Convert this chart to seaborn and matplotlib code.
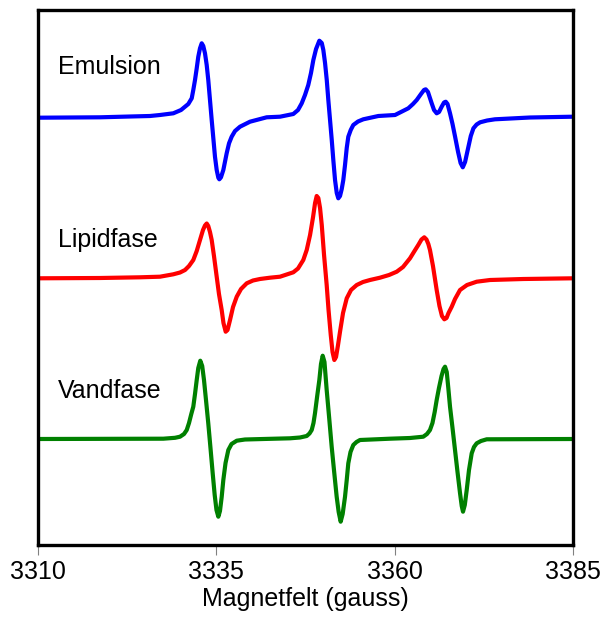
"""
EPR spectra of a spin probe in emulsion, lipid phase and water phase.
Stacked derivative spectra, no y scale.
"""

import pandas as pd
import matplotlib
matplotlib.use("Agg")
import matplotlib.pyplot as plt
import seaborn as sns

# magnetic field (gauss) and signal (arbitrary units, relative to baseline)
emulsion_field = [3310.00, 3318.69, 3322.90, 3325.70, 3327.10, 3328.97, 3330.05, 3331.07,
                  3331.55, 3331.77, 3332.01, 3332.25, 3332.47, 3332.71, 3332.95, 3333.17,
                  3333.41, 3333.65, 3333.87, 3334.11, 3334.35, 3334.58, 3334.81, 3335.05,
                  3335.28, 3335.42, 3335.65, 3335.98, 3336.45, 3336.78, 3337.15, 3337.62,
                  3338.32, 3339.72, 3342.06,
                  3343.93, 3345.79, 3346.45, 3346.97, 3347.43, 3347.89, 3348.27, 3348.60,
                  3348.98, 3349.44, 3349.78, 3350.00, 3350.24, 3350.48, 3350.70, 3350.94,
                  3351.18, 3351.40, 3351.64, 3351.88, 3352.10, 3352.34, 3352.58, 3352.80,
                  3353.04, 3353.28, 3353.50, 3353.84, 3354.20, 3354.86, 3355.60, 3357.71,
                  3360.05, 3361.91, 3362.57, 3363.09, 3363.69, 3364.11, 3364.35, 3364.67,
                  3365.19, 3365.52, 3365.89, 3366.22, 3366.59, 3366.92, 3367.16, 3367.41,
                  3367.76, 3368.11, 3368.47, 3368.89, 3369.24, 3369.55, 3369.87, 3370.34,
                  3370.67, 3371.04, 3371.49, 3371.98, 3372.96, 3374.06, 3378.97, 3385.00]
emulsion_signal = [0.0, 0.4, 1.2, 1.7, 2.7, 4.4, 7.7, 13.7,
                   19.4, 27.7, 37.7, 49.4, 61.0, 69.4, 74.4, 71.7,
                   64.4, 52.7, 37.7, 17.7, -2.3, -20.6, -39.0, -52.3,
                   -60.0, -61.6, -59.6, -52.3, -35.6, -25.6, -19.0, -13.3,
                   -9.0, -4.0, 0.4,
                   1.0, 3.7, 7.7, 14.4, 22.7, 32.7, 44.7, 57.7,
                   68.7, 77.0, 74.7, 67.7, 54.7, 37.7, 17.7, -2.3,
                   -22.3, -42.3, -62.3, -75.3, -80.6, -78.3, -71.3, -62.3,
                   -47.3, -30.3, -19.0, -12.3, -7.3, -3.8, -1.6, 1.7,
                   2.7, 9.4, 13.7, 17.7, 23.7, 27.7, 28.4, 25.7,
                   14.4, 7.7, 4.4, 5.7, 11.0, 15.2, 16.0, 13.7,
                   4.4, -6.3, -19.0, -34.3, -45.3, -49.6, -44.3, -29.0,
                   -18.3, -10.6, -6.8, -4.6, -2.8, -1.6, 0.2, 1.0]

lipid_field = [3310.00, 3318.69, 3324.30, 3327.10, 3328.97, 3329.91, 3330.61, 3331.17,
               3331.77, 3332.25, 3332.71, 3333.13, 3333.41, 3333.65, 3333.87, 3334.11,
               3334.35, 3334.67, 3335.05, 3335.37, 3335.75, 3336.00, 3336.31, 3336.57,
               3336.92, 3337.34, 3337.86, 3338.46, 3339.26, 3340.14, 3341.12, 3342.52,
               3343.93, 3345.79, 3346.45, 3347.19, 3347.67, 3348.14, 3348.56, 3348.84,
               3349.07, 3349.30, 3349.54, 3349.78, 3350.10, 3350.47, 3350.73, 3351.04,
               3351.29, 3351.54, 3351.78, 3352.06, 3352.34, 3352.76, 3353.28, 3353.88,
               3354.68, 3355.56, 3356.54, 3357.94, 3359.21,
               3360.29, 3361.17, 3362.15, 3362.78, 3363.31, 3363.76, 3364.15, 3364.46,
               3364.72, 3364.95, 3365.37, 3365.89, 3366.28, 3366.63, 3366.96, 3367.27,
               3367.55, 3368.00, 3368.46, 3369.16, 3370.14, 3371.50, 3373.37, 3378.03,
               3385.00]
lipid_signal = [0.0, 0.3, 1.0, 1.6, 4.0, 5.8, 8.3, 12.3,
                18.3, 27.3, 38.3, 48.3, 52.8, 54.8, 52.3, 46.3,
                38.3, 22.3, 1.6, -15.7, -31.7, -44.7, -53.4, -51.7,
                -41.7, -28.7, -18.4, -10.7, -5.0, -2.2, -0.7, 0.6,
                1.6, 6.0, 9.8, 18.3, 28.3, 43.3, 61.3, 75.3,
                82.3, 80.3, 70.3, 53.3, 23.3, -6.7, -31.7, -56.7,
                -73.7, -81.7, -78.7, -66.7, -53.4, -34.7, -20.0, -11.7,
                -6.7, -3.7, -1.7, 0.6, 3.3,
                6.6, 11.3, 20.0, 27.3, 33.3, 38.8, 41.0, 38.8,
                34.3, 28.3, 12.3, -11.7, -27.7, -37.7, -41.0, -39.7,
                -34.7, -28.4, -20.7, -11.7, -6.7, -3.4, -1.7, -0.7,
                0.0]

water_field = [3310.00, 3327.57, 3329.21, 3329.91, 3330.47, 3330.85, 3331.17, 3331.49,
               3331.77, 3332.01, 3332.25, 3332.47, 3332.75, 3333.02, 3333.27, 3333.55,
               3333.87, 3334.18, 3334.49, 3334.77, 3335.02, 3335.28, 3335.51, 3335.75,
               3335.98, 3336.29, 3336.68, 3337.13, 3337.86, 3339.02, 3341.58,
               3345.33, 3346.73, 3347.67, 3348.06, 3348.37, 3348.62, 3348.83, 3349.14,
               3349.44, 3349.67, 3349.91, 3350.16, 3350.47, 3350.82, 3351.17, 3351.52,
               3351.87, 3352.15, 3352.43, 3352.71, 3353.04, 3353.28, 3353.50, 3353.81,
               3354.20, 3354.65, 3355.14, 3359.35,
               3362.15, 3364.01, 3364.53, 3364.95, 3365.30, 3365.61, 3365.89, 3366.21,
               3366.57, 3366.85, 3367.06, 3367.30, 3367.52, 3367.76, 3368.11, 3368.46,
               3368.81, 3369.16, 3369.40, 3369.58, 3369.83, 3370.10, 3370.42, 3370.80,
               3371.12, 3371.50, 3372.10, 3372.90, 3385.00]
water_signal = [0.0, 0.3, 1.2, 2.3, 5.0, 9.0, 16.0, 25.0,
                32.3, 45.0, 59.0, 71.0, 78.3, 73.0, 59.0, 39.0,
                15.7, -9.0, -34.3, -56.0, -71.0, -77.7, -72.0, -58.0,
                -41.0, -24.0, -11.0, -5.0, -1.7, -0.5, 0.0,
                0.7, 1.5, 3.0, 5.5, 9.0, 16.0, 25.7, 43.0,
                59.0, 75.0, 83.3, 77.0, 49.0, 21.0, -7.7, -33.0,
                -57.7, -73.0, -82.7, -75.0, -57.7, -41.0, -24.3, -13.0,
                -6.0, -3.0, -1.0, 0.3,
                1.0, 2.3, 5.0, 9.0, 16.0, 27.0, 39.0, 51.0,
                63.0, 70.0, 72.3, 67.0, 51.0, 32.3, 11.0, -11.0,
                -33.0, -54.0, -67.0, -72.7, -66.0, -51.0, -31.0, -14.3,
                -8.0, -4.3, -2.0, -0.3, 0.0]

names = ["Emulsion", "Lipidfase", "Vandfase"]
x_ticks = [3310, 3335, 3360, 3385]

# layout: vertical stacking offsets and label positions
offsets = [427.3, 266.7, 106.0]
label_y = [470.7, 298.3, 146.7]
label_x = 3312.8
colors = ["#0000ff", "#ff0000", "#008000"]

sns.set_style("white")
plt.rcParams["font.family"] = ["Liberation Sans", "DejaVu Sans"]
plt.rcParams["text.color"] = "black"
plt.rcParams["xtick.labelcolor"] = "black"
plt.rcParams["axes.labelcolor"] = "black"

frames = []
for name, fld, sig, off in zip(names,
                               [emulsion_field, lipid_field, water_field],
                               [emulsion_signal, lipid_signal, water_signal],
                               offsets):
    frames.append(pd.DataFrame({"field": fld,
                                "signal": [s + off for s in sig],
                                "sample": name}))
df = pd.concat(frames, ignore_index=True)

fig = plt.figure(figsize=(6.05, 6.19), dpi=100)
ax = fig.add_axes([38 / 605, 74 / 619, 535 / 605, 535 / 619])

sns.lineplot(data=df, x="field", y="signal", hue="sample", hue_order=names,
             palette=colors, lw=3, legend=False, ax=ax, sort=False)

for name, y in zip(names, label_y):
    ax.text(label_x, y, name, fontsize=18, va="baseline", ha="left", color="black")

ax.set_xlim(3310, 3385)
ax.set_ylim(0, 535)
ax.set_xticks(x_ticks)
ax.set_xticklabels([str(t) for t in x_ticks])
ax.set_yticks([])
ax.set_xlabel("Magnetfelt (gauss)", fontsize=18, labelpad=2, color="black")
ax.set_ylabel("")
ax.tick_params(axis="x", direction="out", length=7, width=0.8, color="gray",
               labelsize=18, labelcolor="black", pad=4, bottom=True)
for sp in ax.spines.values():
    sp.set_visible(True)
    sp.set_color("black")
    sp.set_linewidth(2.4)

fig.savefig("out.png", dpi=100)
